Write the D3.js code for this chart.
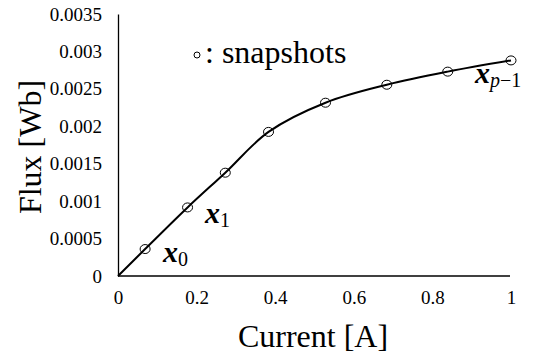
<!DOCTYPE html>
<html>
<head>
<meta charset="utf-8">
<script src="https://cdn.jsdelivr.net/npm/d3@7"></script>
<style>
  body { margin: 0; background: #fff; }
  svg text { font-family: "Liberation Serif", "Times New Roman", serif !important; fill: #000; }
</style>
</head>
<body>
<div id="chart"></div>
<script>
// snapshot points (current [A], flux [Wb])
var snapCurrent = [0.069, 0.177, 0.273, 0.383, 0.528, 0.684, 0.839, 1.0];
var snapFlux = [0.00036, 0.000916, 0.00138, 0.001925, 0.002315, 0.002555, 0.00273, 0.00288];
// the curve starts at the origin and runs through the snapshots
var curveCurrent = [0].concat(snapCurrent);
var curveFlux = [0].concat(snapFlux);

var xTicks = [0, 0.2, 0.4, 0.6, 0.8, 1];
var xTickLabels = ["0", "0.2", "0.4", "0.6", "0.8", "1"];
var yTicks = [0, 0.0005, 0.001, 0.0015, 0.002, 0.0025, 0.003, 0.0035];
var yTickLabels = ["0", "0.0005", "0.001", "0.0015", "0.002", "0.0025", "0.003", "0.0035"];

var width = 545, height = 355;
var serif = "'Liberation Serif', 'Times New Roman', serif";

var svg = d3.select("#chart").append("svg")
    .attr("width", width)
    .attr("height", height)
    .attr("font-family", serif);

var x = d3.scaleLinear().domain([0, 1]).range([118, 511]);
var y = d3.scaleLinear().domain([0, 0.0035]).range([276, 14]);

// x axis
var xAxis = svg.append("g")
    .attr("transform", "translate(0," + y(0) + ")")
    .call(d3.axisBottom(x).tickValues(xTicks).tickSize(0).tickPadding(15)
        .tickFormat(function(d, i) { return xTickLabels[i]; }))
    .attr("font-family", serif)
    .attr("font-size", 19);
xAxis.select(".domain").attr("stroke", "#000").attr("stroke-width", 1.3)
    .attr("d", "M" + x(0) + ",0H" + (x(1) - 1));

// y axis
var yAxis = svg.append("g")
    .attr("transform", "translate(" + x(0) + ",0)")
    .call(d3.axisLeft(y).tickValues(yTicks).tickSize(0).tickPadding(16)
        .tickFormat(function(d, i) { return yTickLabels[i]; }))
    .attr("font-family", serif)
    .attr("font-size", 19);
yAxis.select(".domain").attr("stroke", "#000").attr("stroke-width", 1.3);

// axis titles
svg.append("text")
    .attr("x", 313)
    .attr("y", 347)
    .attr("text-anchor", "middle")
    .attr("font-size", 32)
    .text("Current [A]");

svg.append("text")
    .attr("transform", "translate(41,147) rotate(-90)")
    .attr("text-anchor", "middle")
    .attr("font-size", 32)
    .text("Flux [Wb]");

// curve
var line = d3.line()
    .x(function(d) { return x(d[0]); })
    .y(function(d) { return y(d[1]); })
    .curve(d3.curveCatmullRom.alpha(0.5));

svg.append("path")
    .datum(curveCurrent.map(function(c, i) { return [c, curveFlux[i]]; }))
    .attr("d", line)
    .attr("fill", "none")
    .attr("stroke", "#000")
    .attr("stroke-width", 2);

// snapshot markers
svg.selectAll(".snap")
    .data(snapCurrent.map(function(c, i) { return [c, snapFlux[i]]; }))
    .enter()
    .append("ellipse")
    .attr("class", "snap")
    .attr("cx", function(d) { return x(d[0]); })
    .attr("cy", function(d) { return y(d[1]); })
    .attr("rx", 5)
    .attr("ry", 4.5)
    .attr("fill", "none")
    .attr("stroke", "#000")
    .attr("stroke-width", 1);

// legend
svg.append("circle")
    .attr("cx", 197)
    .attr("cy", 55)
    .attr("r", 3)
    .attr("fill", "none")
    .attr("stroke", "#000")
    .attr("stroke-width", 1);
svg.append("text")
    .attr("x", 205)
    .attr("y", 63)
    .attr("font-size", 32)
    .text(": snapshots");

// point labels
function label(px, py, sub) {
    var t = svg.append("text")
        .attr("x", px)
        .attr("y", py);
    t.append("tspan")
        .attr("font-size", 30)
        .attr("font-style", "italic")
        .attr("font-weight", "bold")
        .text("x");
    t.append("tspan")
        .attr("dy", 4)
        .attr("font-size", 20)
        .html(sub);
}
label(163, 262, "0");
label(205, 223, "1");
label(475, 83, "<tspan font-style='italic'>p</tspan>\u22121");
</script>
</body>
</html>
